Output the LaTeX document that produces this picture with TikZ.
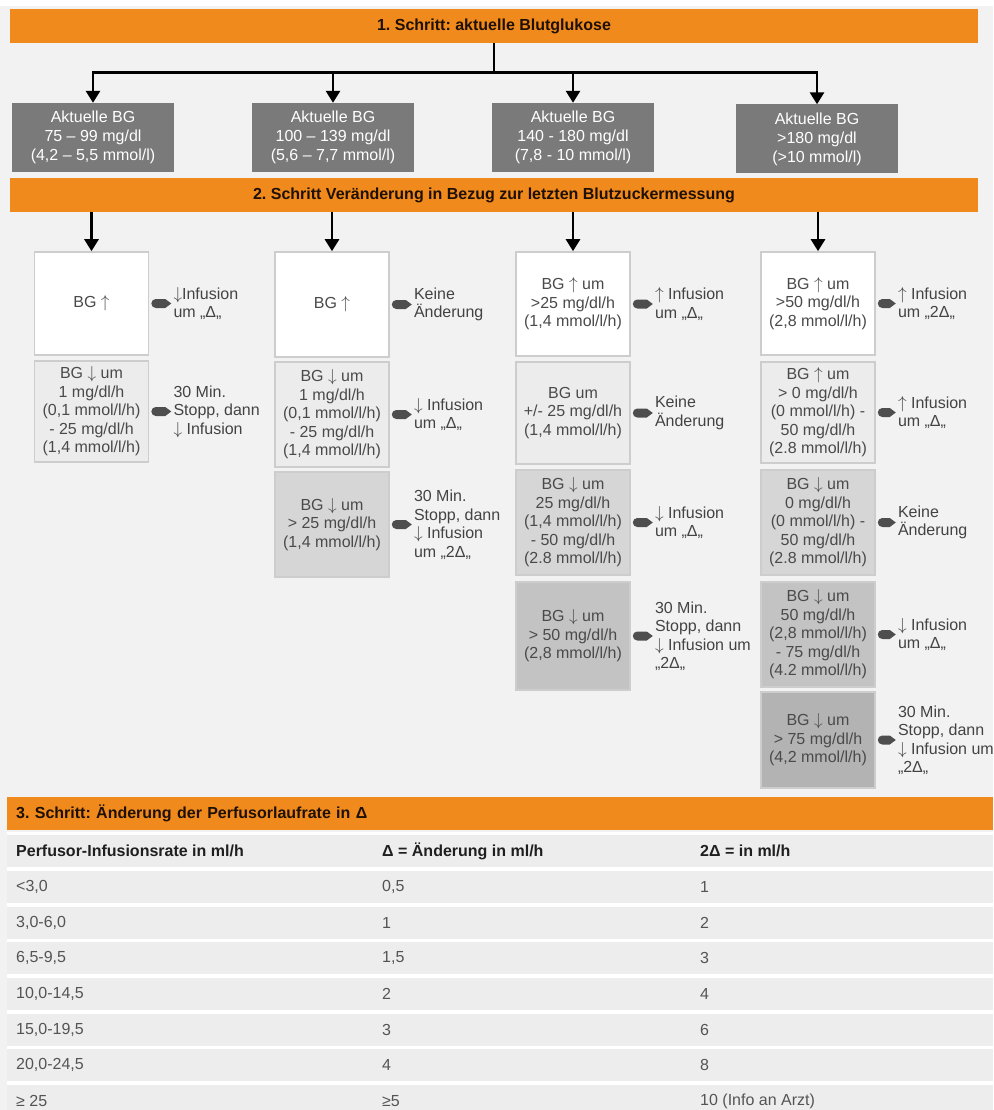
\documentclass[tikz,border=0pt]{standalone}
\usepackage{fontspec}
\setmainfont{Liberation Sans}
\usetikzlibrary{arrows.meta}
\frenchspacing

\definecolor{orangebar}{HTML}{F18A1C}
\definecolor{bartext}{HTML}{1E1005}
\definecolor{pagebg}{HTML}{F2F2F2}
\definecolor{gboxfill}{HTML}{7A7A7A}
\definecolor{boxline}{HTML}{CDCDCD}
\definecolor{boxtext}{HTML}{4A4A4A}
\definecolor{lbltext}{HTML}{434343}
\definecolor{tagfill}{HTML}{4E4E4E}
\definecolor{shadeA}{HTML}{FFFFFF}
\definecolor{shadeB}{HTML}{ECECEC}
\definecolor{shadeC}{HTML}{D6D6D6}
\definecolor{shadeD}{HTML}{C3C3C3}
\definecolor{shadeE}{HTML}{B3B3B3}
\definecolor{rowfill}{HTML}{EDEDED}
\definecolor{headtext}{HTML}{1F1F1F}
\definecolor{celltext}{HTML}{545454}

\newcommand\dgfont{\fontsize{16pt}{18.5pt}\selectfont}
\newcommand\gfont{\fontsize{16pt}{19pt}\selectfont}
\newcommand\hdfont{\fontsize{16pt}{19pt}\selectfont\bfseries}
\newcommand\thfont{\fontsize{16pt}{19pt}\selectfont\bfseries}
\newcommand\tcfont{\fontsize{16pt}{19pt}\selectfont}
\newcommand\arrup{$\uparrow$}
\newcommand\arrdn{$\downarrow$}

% small dark pointer between a box (#1) and its action text (#2)
\newcommand\tagmark[2]{%
  \fill[tagfill] ([xshift=6.5pt,yshift=-4.5pt]#1.east)
    -- ([xshift=-8pt,yshift=-4.5pt]#2.west)
    -- ([xshift=-2pt]#2.west)
    -- ([xshift=-8pt,yshift=4.5pt]#2.west)
    -- ([xshift=6.5pt,yshift=4.5pt]#1.east)
    arc[start angle=90,end angle=270,radius=4.5pt] -- cycle;}

\begin{document}
\begin{tikzpicture}[x=1pt,y=-1pt,
  conn/.style={line width=2.8pt,draw=black},
  arr/.style={conn,-{Triangle[width=14pt,length=12pt]}},
  bar/.style={fill=orangebar,minimum height=34pt,inner sep=0pt,text=bartext,font=\hdfont},
  gbox/.style={fill=gboxfill,minimum width=162pt,minimum height=69pt,inner sep=0pt,
    align=center,text=white,font=\gfont},
  sbox/.style={draw=boxline,line width=1.6pt,minimum width=114pt,inner sep=0pt,
    align=center,text=boxtext,font=\dgfont},
  lbl/.style={anchor=west,inner sep=0pt,align=left,text=lbltext,font=\dgfont},
  thead/.style={anchor=west,inner sep=0pt,text=headtext,font=\thfont},
  tcell/.style={anchor=west,inner sep=0pt,text=celltext,font=\tcfont},
]
\useasboundingbox (0,0) rectangle (993,1110);
\fill[pagebg] (0,0) rectangle (993,1110);
\fill[white] (0,0) rectangle (993,6);

% ---------- step 1 ----------
\node[bar,minimum width=968pt] (s1) at (494,26) {1. Schritt: aktuelle Blutglukose};

\node[gbox] (g1) at (93,137.5) {Aktuelle BG\\75 – 99 mg/dl\\(4,2 – 5,5 mmol/l)};
\node[gbox] (g2) at (333,137.5) {Aktuelle BG\\100 – 139 mg/dl\\(5,6 – 7,7 mmol/l)};
\node[gbox] (g3) at (573,137.5) {Aktuelle BG\\140 - 180 mg/dl\\(7,8 - 10 mmol/l)};
\node[gbox] (g4) at (817,139) {Aktuelle BG\\>180 mg/dl\\(>10 mmol/l)};

\coordinate (j) at ([yshift=-29pt]s1.south);
\draw[conn] (s1.south) -- (j);
\draw[arr] (j) -| (g1.north);
\draw[arr] (j) -| (g2.north);
\draw[arr] (j) -| (g3.north);
\draw[arr] (j) -| (g4.north);

% ---------- step 2 ----------
\node[bar,minimum width=968pt] (s2) at (494,195)
  {2. Schritt Veränderung in Bezug zur letzten Blutzuckermessung};

% column 1
\node[sbox,fill=shadeA,minimum height=103pt] (a1) at (91.5,303.5) {BG \arrup};
\node[sbox,fill=shadeB,minimum height=101pt] (a2) at (91.5,411.5)
  {BG \arrdn{} um\\1 mg/dl/h\\(0,1 mmol/l/h)\\- 25 mg/dl/h\\(1,4 mmol/l/h)};
\node[lbl] (a1t) at ([xshift=24pt]a1.east) {\arrdn Infusion\\um „Δ„};
\node[lbl] (a2t) at ([xshift=24pt]a2.east) {30 Min.\\Stopp, dann\\\arrdn{} Infusion};

% column 2
\node[sbox,fill=shadeA,minimum height=105pt] (b1) at (332,304.5) {BG \arrup};
\node[sbox,fill=shadeB,minimum height=105pt] (b2) at (332,414.5)
  {BG \arrdn{} um\\1 mg/dl/h\\(0,1 mmol/l/h)\\- 25 mg/dl/h\\(1,4 mmol/l/h)};
\node[sbox,fill=shadeC,minimum height=105pt] (b3) at (332,524.5)
  {BG \arrdn{} um\\> 25 mg/dl/h\\(1,4 mmol/l/h)};
\node[lbl] (b1t) at ([xshift=24pt]b1.east) {Keine\\Änderung};
\node[lbl] (b2t) at ([xshift=24pt]b2.east) {\arrdn{} Infusion\\um „Δ„};
\node[lbl] (b3t) at ([xshift=24pt]b3.east) {30 Min.\\Stopp, dann\\\arrdn{} Infusion\\um „2Δ„};

% column 3
\node[sbox,fill=shadeA,minimum height=104pt] (c1) at (573,304)
  {BG \arrup{} um\\>25 mg/dl/h\\(1,4 mmol/l/h)};
\node[sbox,fill=shadeB,minimum height=102pt] (c2) at (573,413)
  {BG um\\+/- 25 mg/dl/h\\(1,4 mmol/l/h)};
\node[sbox,fill=shadeC,minimum height=105pt] (c3) at (573,522.5)
  {BG \arrdn{} um\\25 mg/dl/h\\(1,4 mmol/l/h)\\- 50 mg/dl/h\\(2.8 mmol/l/h)};
\node[sbox,fill=shadeD,minimum height=108pt] (c4) at (573,636)
  {BG \arrdn{} um\\> 50 mg/dl/h\\(2,8 mmol/l/h)};
\node[lbl] (c1t) at ([xshift=24pt]c1.east) {\arrup{} Infusion\\um „Δ„};
\node[lbl] (c2t) at ([xshift=24pt]c2.east) {Keine\\Änderung};
\node[lbl] (c3t) at ([xshift=24pt]c3.east) {\arrdn{} Infusion\\um „Δ„};
\node[lbl] (c4t) at ([xshift=24pt]c4.east) {30 Min.\\Stopp, dann\\\arrdn{} Infusion um\\„2Δ„};

% column 4
\node[sbox,fill=shadeA,minimum height=103pt] (d1) at (818,303.5)
  {BG \arrup{} um\\>50 mg/dl/h\\(2,8 mmol/l/h)};
\node[sbox,fill=shadeB,minimum height=101pt] (d2) at (818,412.5)
  {BG \arrup{} um\\> 0 mg/dl/h\\(0 mmol/l/h) -\\50 mg/dl/h\\(2.8 mmol/l/h)};
\node[sbox,fill=shadeC,minimum height=105pt] (d3) at (818,522.5)
  {BG \arrdn{} um\\0 mg/dl/h\\(0 mmol/l/h) -\\50 mg/dl/h\\(2.8 mmol/l/h)};
\node[sbox,fill=shadeD,minimum height=105pt] (d4) at (818,634.5)
  {BG \arrdn{} um\\50 mg/dl/h\\(2,8 mmol/l/h)\\- 75 mg/dl/h\\(4.2 mmol/l/h)};
\node[sbox,fill=shadeE,minimum height=96pt] (d5) at (818,740)
  {BG \arrdn{} um\\> 75 mg/dl/h\\(4,2 mmol/l/h)};
\node[lbl] (d1t) at ([xshift=22pt]d1.east) {\arrup{} Infusion\\um „2Δ„};
\node[lbl] (d2t) at ([xshift=22pt]d2.east) {\arrup{} Infusion\\um „Δ„};
\node[lbl] (d3t) at ([xshift=22pt]d3.east) {Keine\\Änderung};
\node[lbl] (d4t) at ([xshift=22pt]d4.east) {\arrdn{} Infusion\\um „Δ„};
\node[lbl] (d5t) at ([xshift=22pt]d5.east) {30 Min.\\Stopp, dann\\\arrdn{} Infusion um\\„2Δ„};

\draw[arr] (s2.south -| a1.north) -- (a1.north);
\draw[arr] (s2.south -| b1.north) -- (b1.north);
\draw[arr] (s2.south -| c1.north) -- (c1.north);
\draw[arr] (s2.south -| d1.north) -- (d1.north);

\tagmark{a1}{a1t}\tagmark{a2}{a2t}
\tagmark{b1}{b1t}\tagmark{b2}{b2t}\tagmark{b3}{b3t}
\tagmark{c1}{c1t}\tagmark{c2}{c2t}\tagmark{c3}{c3t}\tagmark{c4}{c4t}
\tagmark{d1}{d1t}\tagmark{d2}{d2t}\tagmark{d3}{d3t}\tagmark{d4}{d4t}\tagmark{d5}{d5t}

% ---------- step 3 ----------
\fill[white] (7,832) rectangle (993,1110);
\foreach \c in {851,887,923,958,994,1030,1065,1101}
  \fill[rowfill] (7,\c-16) rectangle (993,\c+16);

\node[bar,anchor=west,text width=968pt,inner xsep=9pt,minimum height=33pt,align=left]
  (s3) at (7,813.5) {3. Schritt: Änderung der Perfusorlaufrate in Δ};

\node[thead] (h1) at (16,851) {Perfusor-Infusionsrate in ml/h};
\node[thead] (h2) at (382,851) {Δ = Änderung in ml/h};
\node[thead] (h3) at (700,851) {2Δ = in ml/h};

\node[tcell] (r1a) at (16,887) {<3,0};      \node[tcell] (r1b) at (382,887) {0,5}; \node[tcell] (r1c) at (700,887) {1};
\node[tcell] (r2a) at (16,923) {3,0-6,0};   \node[tcell] (r2b) at (382,923) {1};   \node[tcell] (r2c) at (700,923) {2};
\node[tcell] (r3a) at (16,958) {6,5-9,5};   \node[tcell] (r3b) at (382,958) {1,5}; \node[tcell] (r3c) at (700,958) {3};
\node[tcell] (r4a) at (16,994) {10,0-14,5}; \node[tcell] (r4b) at (382,994) {2};   \node[tcell] (r4c) at (700,994) {4};
\node[tcell] (r5a) at (16,1030) {15,0-19,5};\node[tcell] (r5b) at (382,1030) {3};  \node[tcell] (r5c) at (700,1030) {6};
\node[tcell] (r6a) at (16,1065) {20,0-24,5};\node[tcell] (r6b) at (382,1065) {4};  \node[tcell] (r6c) at (700,1065) {8};
\node[tcell] (r7a) at (16,1101) {≥ 25};     \node[tcell] (r7b) at (382,1101) {≥5}; \node[tcell] (r7c) at (700,1101) {10 (Info an Arzt)};
\end{tikzpicture}
\end{document}
